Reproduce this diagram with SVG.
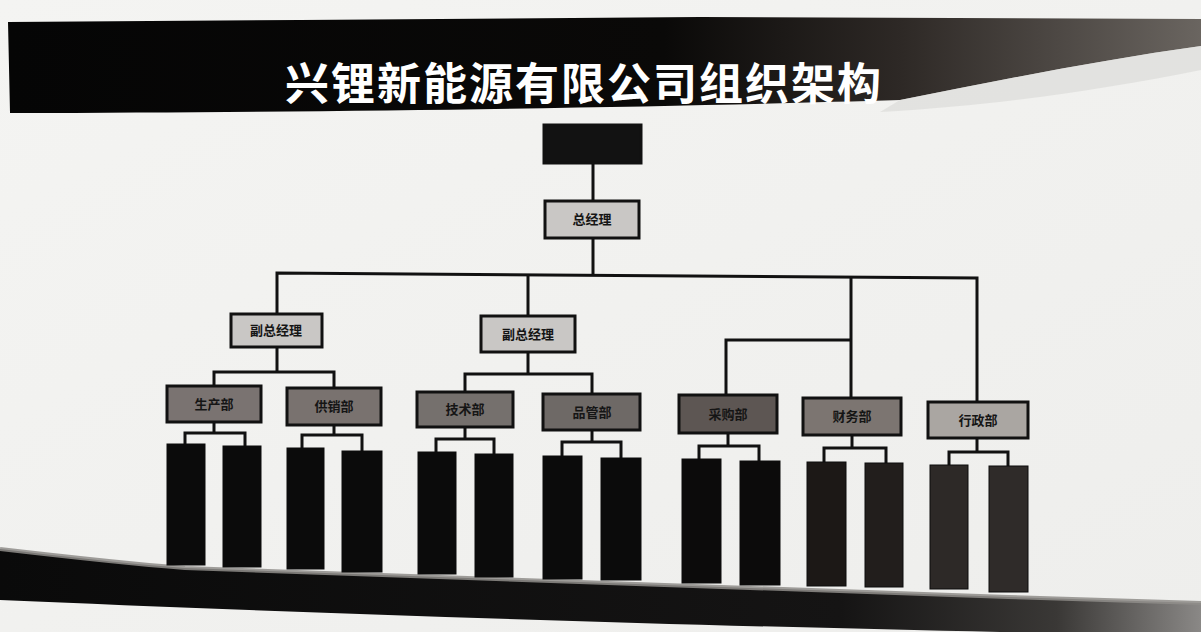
<svg xmlns="http://www.w3.org/2000/svg" width="1201" height="632" viewBox="0 0 1201 632">
<defs>
<linearGradient id="titleG" x1="0" y1="0" x2="1" y2="0">
<stop offset="0" stop-color="#050505"/>
<stop offset="0.55" stop-color="#0a0908"/>
<stop offset="0.75" stop-color="#2e2926"/>
<stop offset="1" stop-color="#6a6560"/>
</linearGradient>
<linearGradient id="botG" x1="0" y1="0" x2="1" y2="0">
<stop offset="0" stop-color="#0a0a0a"/>
<stop offset="0.7" stop-color="#151414"/>
<stop offset="0.88" stop-color="#3a3836"/>
<stop offset="1" stop-color="#8a8886"/>
</linearGradient>
<linearGradient id="bgG" x1="0" y1="0" x2="1" y2="1">
<stop offset="0" stop-color="#f4f4f2"/>
<stop offset="1" stop-color="#eeeeec"/>
</linearGradient>
</defs>
<style>
.ln{stroke:#111;stroke-width:3;fill:none}
.bx{stroke:#111;stroke-width:3}
.lt{fill:#c9c7c5}
.lb{font-family:"Liberation Sans","Noto Sans CJK SC",sans-serif;font-weight:bold;font-size:13px;fill:#151515;text-anchor:middle}
.col{stroke:#0c0c0c;stroke-width:1}
</style>
<rect width="1201" height="632" fill="url(#bgG)"/>
<g id="title-band">
<path d="M8,22 L300,20 L700,17 L1201,19 L1201,46 C1100,60 1000,80 900,100 C700,106 400,112 10,113 Z" fill="url(#titleG)"/>
<path d="M900,100 C1000,80 1100,60 1201,46 L1201,70 C1100,90 1000,105 880,112 Z" fill="#d9d8d6" opacity="0.6"/>
<text x="285" y="100" font-family="'Noto Sans CJK SC',sans-serif" font-weight="bold" font-size="44" letter-spacing="2" fill="#ffffff">兴锂新能源有限公司组织架构</text>
</g>
<g id="bottom-band">
<path d="M0,549 C60,556 120,563 185,568 L1008,597 L1201,603 L1201,632 L1000,632 C700,626 300,613 0,600 Z" fill="url(#botG)"/>
<path d="M0,549 C60,556 120,563 185,568 L1008,597 L1201,603" fill="none" stroke="#8f8d8a" stroke-width="4" opacity="0.85"/>
</g>
<g id="connectors">
<path class="ln" d="M593,163 V201"/>
<path class="ln" d="M593,238 V275"/>
<path class="ln" d="M277,314 V273 L977,278 V402"/>
<path class="ln" d="M528,316 V274"/>
<path class="ln" d="M851,277 V398"/>
<path class="ln" d="M851,340 H726 V395"/>
<path class="ln" d="M277,347 V372"/>
<path class="ln" d="M214,386 V372 H334 V388"/>
<path class="ln" d="M528,352 V374"/>
<path class="ln" d="M465,392 V374 H592 V394"/>
<path class="ln" d="M214,422 V433"/>
<path class="ln" d="M185,444 V433 H245 V446"/>
<path class="ln" d="M334,425 V435"/>
<path class="ln" d="M302,448 V435 H362 V451"/>
<path class="ln" d="M465,427 V439"/>
<path class="ln" d="M436,452 V439 H494 V454"/>
<path class="ln" d="M592,430 V442"/>
<path class="ln" d="M562,456 V442 H621 V458"/>
<path class="ln" d="M728,433 V446"/>
<path class="ln" d="M699,459 V446 H759 V461"/>
<path class="ln" d="M852,435 V448"/>
<path class="ln" d="M824,462 V448 H886 V463"/>
<path class="ln" d="M977,438 V452"/>
<path class="ln" d="M949,465 V452 H1008 V466"/>
</g>
<g id="n-top"><rect class="bx" x="544" y="125" width="97" height="38" fill="#121212"/></g>
<g id="n-gm"><rect class="bx lt" x="545" y="201" width="94" height="37"/><text class="lb" x="592" y="224">总经理</text></g>
<g id="n-vp1"><rect class="bx lt" x="231" y="314" width="91" height="33"/><text class="lb" x="276" y="335">副总经理</text></g>
<g id="n-vp2"><rect class="bx lt" x="481" y="316" width="94" height="36"/><text class="lb" x="528" y="339">副总经理</text></g>
<g id="n-d1"><rect class="bx" x="167" y="386" width="94" height="36" fill="#7a7371"/><text class="lb" x="214" y="409">生产部</text></g>
<g id="n-d2"><rect class="bx" x="287" y="388" width="94" height="37" fill="#79726f"/><text class="lb" x="334" y="411">供销部</text></g>
<g id="n-d3"><rect class="bx" x="417" y="392" width="96" height="35" fill="#75706d"/><text class="lb" x="465" y="414">技术部</text></g>
<g id="n-d4"><rect class="bx" x="543" y="394" width="97" height="36" fill="#6e6966"/><text class="lb" x="592" y="417">品管部</text></g>
<g id="n-d5"><rect class="bx" x="679" y="395" width="98" height="38" fill="#5d5653"/><text class="lb" x="728" y="419">采购部</text></g>
<g id="n-d6"><rect class="bx" x="803" y="398" width="98" height="37" fill="#7c7571"/><text class="lb" x="852" y="421">财务部</text></g>
<g id="n-d7"><rect class="bx" x="928" y="402" width="100" height="36" fill="#aaa6a2"/><text class="lb" x="978" y="425">行政部</text></g>
<g id="n-c1"><rect class="col" x="167" y="444" width="38" height="121" fill="#0b0b0b"/></g>
<g id="n-c2"><rect class="col" x="223" y="446" width="38" height="121" fill="#0b0b0b"/></g>
<g id="n-c3"><rect class="col" x="287" y="448" width="37" height="121" fill="#0b0b0b"/></g>
<g id="n-c4"><rect class="col" x="342" y="451" width="40" height="121" fill="#0b0b0b"/></g>
<g id="n-c5"><rect class="col" x="418" y="452" width="38" height="122" fill="#0b0b0b"/></g>
<g id="n-c6"><rect class="col" x="475" y="454" width="38" height="123" fill="#0b0b0b"/></g>
<g id="n-c7"><rect class="col" x="543" y="456" width="39" height="123" fill="#0b0b0b"/></g>
<g id="n-c8"><rect class="col" x="601" y="458" width="40" height="122" fill="#0b0b0b"/></g>
<g id="n-c9"><rect class="col" x="682" y="459" width="39" height="124" fill="#0c0b0b"/></g>
<g id="n-c10"><rect class="col" x="740" y="461" width="40" height="124" fill="#0c0b0b"/></g>
<g id="n-c11"><rect class="col" x="807" y="462" width="39" height="124" fill="#1c1816"/></g>
<g id="n-c12"><rect class="col" x="865" y="463" width="38" height="124" fill="#221e1c"/></g>
<g id="n-c13"><rect class="col" x="930" y="465" width="38" height="124" fill="#2d2927"/></g>
<g id="n-c14"><rect class="col" x="989" y="466" width="39" height="126" fill="#2f2b29"/></g>
</svg>
